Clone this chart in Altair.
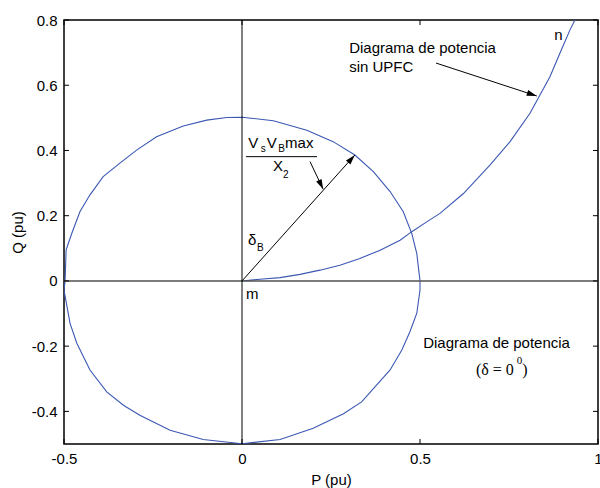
import math

import altair as alt
import pandas as pd

# Plot area size and axis ranges
W, H = 534, 424
XMIN, XMAX = -0.5, 1.0
YMIN, YMAX = -0.5, 0.8

SANS = "Liberation Sans, Arial, Helvetica, sans-serif"
SERIF = "Liberation Serif, Times New Roman, serif"
BLUE = "#3b58b3"

# Power circle with UPFC (delta = 0), traced counter-clockwise from (0.5, 0)
circle_P = [0.5, 0.491, 0.477, 0.453, 0.416, 0.369, 0.317, 0.256, 0.182, 0.088, 0.0,
            -0.043, -0.099, -0.165, -0.240, -0.296, -0.343, -0.390, -0.427, -0.455,
            -0.478, -0.494, -0.497,
            -0.5, -0.483, -0.464, -0.427, -0.380, -0.333, -0.287, -0.202, -0.109, 0.0,
            0.107, 0.200, 0.285, 0.336, 0.416, 0.449, 0.472, 0.491, 0.5, 0.5]
circle_Q = [0.0, 0.084, 0.145, 0.212, 0.274, 0.335, 0.386, 0.427, 0.462, 0.491, 0.502,
            0.501, 0.493, 0.475, 0.442, 0.401, 0.361, 0.320, 0.264, 0.213,
            0.146, 0.095, 0.0,
            -0.028, -0.130, -0.191, -0.273, -0.340, -0.381, -0.412, -0.458, -0.486, -0.499,
            -0.486, -0.452, -0.407, -0.371, -0.273, -0.212, -0.155, -0.099, -0.028, 0.0]

# Power curve without UPFC (from m to n)
curve_P = [0.0, 0.05, 0.107, 0.163, 0.219, 0.275, 0.331, 0.388, 0.444, 0.477, 0.519,
           0.556, 0.622, 0.697, 0.753, 0.809, 0.837, 0.865, 0.893, 0.921, 0.935]
curve_Q = [0.0, 0.005, 0.01, 0.02, 0.033, 0.048, 0.069, 0.094, 0.125, 0.151, 0.181,
           0.207, 0.268, 0.356, 0.427, 0.514, 0.570, 0.626, 0.698, 0.769, 0.80]

x_ticks = [-0.5, 0, 0.5, 1]
y_ticks = [-0.4, -0.2, 0, 0.2, 0.4, 0.6, 0.8]

# Arrows: start and tip in data units
arrow_x0 = [0.0, 0.191, 0.545]
arrow_y0 = [0.0, 0.366, 0.668]
arrow_x1 = [0.317, 0.228, 0.828]
arrow_y1 = [0.386, 0.281, 0.567]

# Sans-serif labels (left edge, vertical centre)
sans_text = ["Diagrama de potencia", "sin UPFC", "n", "m", "Diagrama de potencia",
             "V", "s", "V", "B", "max", "X", "2", "\u03b4", "B"]
sans_x = [0.301, 0.301, 0.877, 0.011, 0.509,
          0.0177, 0.0525, 0.0694, 0.102, 0.121, 0.0871, 0.115, 0.0169, 0.042]
sans_y = [0.714, 0.657, 0.755, -0.040, -0.191,
          0.423, 0.405, 0.423, 0.405, 0.423, 0.353, 0.325, 0.124, 0.101]
sans_size = [15, 15, 15, 15, 15,
             15, 10, 15, 10, 15, 15, 10, 15, 10]

# Serif label "(δ = 0⁰)"
serif_text = ["(\u03b4 = 0", "0", ")"]
serif_x = [0.657, 0.772, 0.787]
serif_y = [-0.273, -0.246, -0.273]
serif_size = [16, 11, 16]

# Fraction bar under V_s V_B max
frac_x0, frac_x1, frac_y = [0.0112], [0.2107], [0.381]

xs = alt.Scale(domain=[XMIN, XMAX], nice=False, zero=False)
ys = alt.Scale(domain=[YMIN, YMAX], nice=False, zero=False)
label_expr = "replace(format(datum.value, '~g'), '\u2212', '-')"

x_axis = alt.Axis(values=x_ticks, labelExpr=label_expr, title="P (pu)", grid=False,
                  domain=False, ticks=False, tickSize=0, labelPadding=7,
                  labelFlush=False, labelOverlap=False, labelBound=False,
                  titleX=W / 2, titleY=35, titleBaseline="middle", titleAlign="center")
y_axis = alt.Axis(values=y_ticks, labelExpr=label_expr, title="Q (pu)", grid=False,
                  domain=False, ticks=False, tickSize=0, labelPadding=7,
                  labelFlush=False, labelOverlap=False, labelBound=False,
                  titleX=-47, titleY=H / 2, titleAngle=270, titleBaseline="middle",
                  titleAlign="center")


def X(field):
    return alt.X(field, scale=xs, axis=x_axis, title="P (pu)")


def Y(field):
    return alt.Y(field, scale=ys, axis=y_axis, title="Q (pu)")


circle_df = pd.DataFrame({"P": circle_P, "Q": circle_Q, "i": range(len(circle_P))})
curve_df = pd.DataFrame({"P": curve_P, "Q": curve_Q, "i": range(len(curve_P))})

circle = alt.Chart(circle_df).mark_line(color=BLUE, strokeWidth=1.1, clip=True).encode(
    x=X("P:Q"), y=Y("Q:Q"), order="i:Q")
curve = alt.Chart(curve_df).mark_line(color=BLUE, strokeWidth=1.1, clip=True).encode(
    x=X("P:Q"), y=Y("Q:Q"), order="i:Q")

# Zero lines
zero_df = pd.DataFrame({"v": [0.0]})
h_zero = alt.Chart(zero_df).mark_rule(color="#505050", strokeWidth=1.5).encode(y=Y("v:Q"))
v_zero = alt.Chart(zero_df).mark_rule(color="black", strokeWidth=1).encode(x=X("v:Q"))

# Inward ticks on all four sides
xt_df = pd.DataFrame({"v": x_ticks})
yt_df = pd.DataFrame({"v": y_ticks})
tick_len = 5
ticks_bottom = alt.Chart(xt_df).mark_rule(color="black", strokeWidth=1).encode(
    x=X("v:Q"), y=alt.value(H), y2=alt.value(H - tick_len))
ticks_top = alt.Chart(xt_df).mark_rule(color="black", strokeWidth=1).encode(
    x=X("v:Q"), y=alt.value(0), y2=alt.value(tick_len))
ticks_left = alt.Chart(yt_df).mark_rule(color="black", strokeWidth=1).encode(
    y=Y("v:Q"), x=alt.value(0), x2=alt.value(tick_len))
ticks_right = alt.Chart(yt_df).mark_rule(color="black", strokeWidth=1).encode(
    y=Y("v:Q"), x=alt.value(W - tick_len), x2=alt.value(W))

# Arrow shafts and heads
px_per_x = W / (XMAX - XMIN)
px_per_y = H / (YMAX - YMIN)
angles = []
for x0, y0, x1, y1 in zip(arrow_x0, arrow_y0, arrow_x1, arrow_y1):
    dx = (x1 - x0) * px_per_x
    dy = (y1 - y0) * px_per_y
    angles.append(math.degrees(math.atan2(dx, dy)) % 360)
arrow_df = pd.DataFrame({"x0": arrow_x0, "y0": arrow_y0, "x1": arrow_x1,
                         "y1": arrow_y1, "angle": angles})
shafts = alt.Chart(arrow_df).mark_rule(color="black", strokeWidth=1).encode(
    x=X("x0:Q"), y=Y("y0:Q"), x2="x1:Q", y2="y1:Q")
heads = alt.Chart(arrow_df).mark_point(
    shape="M0,0 L-0.6,2 L0.6,2 Z", filled=True, color="black", opacity=1,
    size=100, strokeWidth=0).encode(
    x=X("x1:Q"), y=Y("y1:Q"), angle=alt.Angle("angle:Q", scale=None))

# Fraction bar
frac_df = pd.DataFrame({"x0": frac_x0, "x1": frac_x1, "y": frac_y})
frac_bar = alt.Chart(frac_df).mark_rule(color="black", strokeWidth=1).encode(
    x=X("x0:Q"), x2="x1:Q", y=Y("y:Q"))

# Text labels
sans_df = pd.DataFrame({"x": sans_x, "y": sans_y, "t": sans_text, "s": sans_size})
serif_df = pd.DataFrame({"x": serif_x, "y": serif_y, "t": serif_text, "s": serif_size})
sans_labels = alt.Chart(sans_df).mark_text(
    align="left", baseline="middle", font=SANS, color="black").encode(
    x=X("x:Q"), y=Y("y:Q"), text="t:N", size=alt.Size("s:Q", scale=None))
serif_labels = alt.Chart(serif_df).mark_text(
    align="left", baseline="middle", font=SERIF, color="black").encode(
    x=X("x:Q"), y=Y("y:Q"), text="t:N", size=alt.Size("s:Q", scale=None))

chart = alt.layer(
    circle, curve, h_zero, v_zero,
    ticks_bottom, ticks_top, ticks_left, ticks_right,
    shafts, heads, frac_bar, sans_labels, serif_labels,
).properties(
    width=W, height=H,
    autosize=alt.AutoSizeParams(type="none"),
    padding={"left": 64, "top": 20, "right": 2, "bottom": 44},
    background="white",
).configure_view(
    stroke="black", strokeWidth=1.5,
).configure_axis(
    labelFont=SANS, labelFontSize=15, labelColor="black",
    titleFont=SANS, titleFontSize=15, titleFontWeight="normal", titleColor="black",
)

chart.save("out.html", embed_options={"renderer": "svg", "actions": False})
